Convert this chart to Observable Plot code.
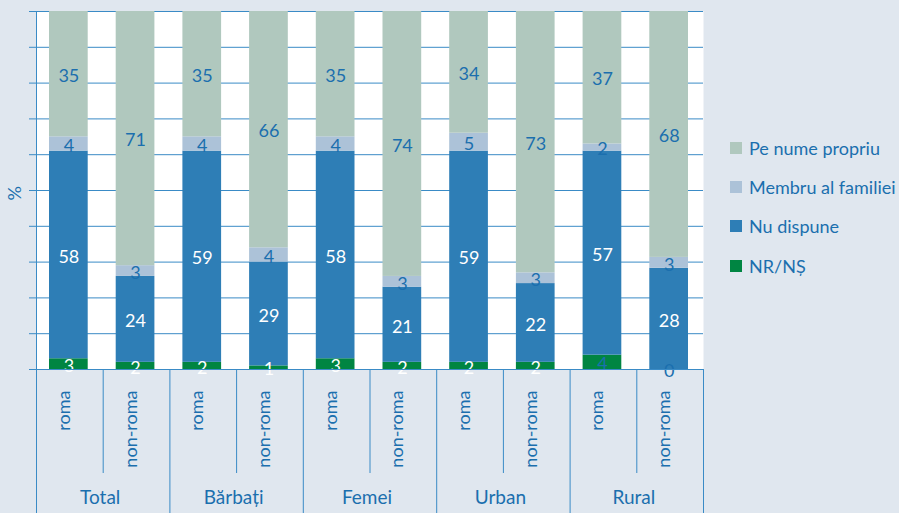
<!DOCTYPE html>
<html>
<head>
<meta charset="utf-8">
<script src="https://cdn.jsdelivr.net/npm/d3@7"></script>
<script src="https://cdn.jsdelivr.net/npm/@observablehq/plot@0.6"></script>
<style>
  html, body { margin: 0; padding: 0; background: #e0e7ef; }
  #wrap { position: relative; width: 899px; height: 513px; overflow: hidden; }
  #legend { position: absolute; left: 730px; top: 128px; font-family: Lato, sans-serif; font-size: 18px; color: #1b6fae; }
  .item { display: flex; align-items: center; height: 39.4px; white-space: nowrap; }
  .sw { width: 12px; height: 12px; margin-right: 7px; flex: none; }
</style>
</head>
<body>
<div id="wrap"><div id="legend"></div></div>
<script>
const groups = ["Total", "Bărbați", "Femei", "Urban", "Rural"];
const subgroups = ["roma", "non-roma"];
const categories = ["NR/NȘ", "Nu dispune", "Membru al familiei", "Pe nume propriu"];
const legendOrder = ["Pe nume propriu", "Membru al familiei", "Nu dispune", "NR/NȘ"];
const colors = ["#008542", "#2e7eb6", "#acc2d8", "#b0c8be"];
// values per bar: Total roma, Total non-roma, Bărbați roma, ... Rural non-roma
const nrns       = [3, 2, 2, 1, 3, 2, 2, 2, 4, 0];
const nuDispune  = [58, 24, 59, 29, 58, 21, 59, 22, 57, 28];
const membru     = [4, 3, 4, 4, 4, 3, 5, 3, 2, 3];
const peNume     = [35, 71, 35, 66, 35, 74, 34, 73, 37, 68];
const yTicks = [0, 10, 20, 30, 40, 50, 60, 70, 80, 90, 100];

const BLUE = "#1b6fae";
const GRID = "#3a8bc6";

const series = [nrns, nuDispune, membru, peNume];
const rows = [];
const bars = [];
for (let i = 0; i < 10; i++) {
  const total = d3.sum(series, s => s[i]);
  let acc = 0;
  bars.push({i, sub: subgroups[i % 2], group: groups[Math.floor(i / 2)]});
  series.forEach((s, k) => {
    const v = s[i];
    // bars are shown as 100% stacks (normalized shares)
    rows.push({i, group: groups[Math.floor(i / 2)], cat: categories[k], value: v,
               y1: acc / total * 100, y2: (acc + v) / total * 100});
    acc += v;
  });
}

const labelFill = d => {
  if (d.cat === "Nu dispune") return "white";
  if (d.cat === "NR/NȘ") return (d.value > 0 && d.group !== "Rural") ? "white" : BLUE;
  return BLUE;
};

const chart = Plot.plot({
  width: 899, height: 513,
  marginTop: 11, marginBottom: 144, marginLeft: 36, marginRight: 196,
  style: {background: "transparent", color: BLUE, fontFamily: "Lato, sans-serif", overflow: "visible"},
  x: {domain: [0, 10], axis: null},
  y: {domain: [0, 100], axis: null},
  color: {domain: categories, range: colors},
  marks: [
    Plot.frame({fill: "white", stroke: null}),
    Plot.ruleY(yTicks, {stroke: GRID, strokeWidth: 1, insetLeft: -7}),
    Plot.rect(rows, {x1: "i", x2: d => d.i + 1, y1: "y1", y2: "y2", fill: "cat", insetLeft: 13, insetRight: 15}),
    Plot.text(rows, {
      x: d => d.i + 0.5 - 0.015, y: d => (d.y1 + d.y2) / 2, text: "value", dy: 2,
      fill: labelFill, fontSize: 18
    }),
    Plot.ruleX([0], {stroke: GRID, insetBottom: -144}),
    Plot.ruleX([2, 4, 6, 8, 10], {y1: 0, y2: 0, stroke: GRID, insetBottom: -144}),
    Plot.ruleX([1, 3, 5, 7, 9], {y1: 0, y2: 0, stroke: GRID, insetBottom: -104}),
    Plot.ruleY([0], {stroke: GRID, insetLeft: -7}),
    Plot.text(bars, {x: d => d.i + 0.5, frameAnchor: "bottom", text: "sub", rotate: -90, textAnchor: "end", dy: 21, fontSize: 18, fill: BLUE}),
    Plot.text(groups, {x: (d, i) => 2 * i + 1, frameAnchor: "bottom", text: d => d, dy: 134, dx: -3, fontSize: 19, fill: BLUE}),
    Plot.text(["%"], {frameAnchor: "left", text: d => d, rotate: -90, dx: -21, dy: 10, fontSize: 18, fill: BLUE})
  ]
});
document.getElementById("wrap").prepend(chart);

const legend = document.getElementById("legend");
legendOrder.forEach(c => {
  const it = document.createElement("div");
  it.className = "item";
  const sw = document.createElement("span");
  sw.className = "sw";
  sw.style.background = colors[categories.indexOf(c)];
  const t = document.createElement("span");
  t.textContent = c;
  it.append(sw, t);
  legend.append(it);
});
</script>
</body>
</html>
